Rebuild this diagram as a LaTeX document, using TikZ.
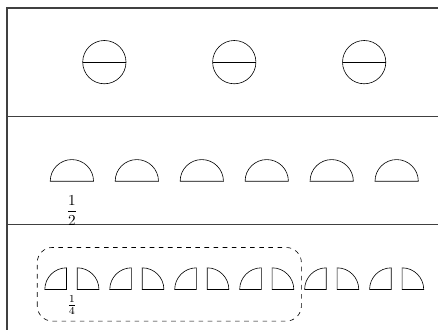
\documentclass[tikz,border=0pt]{standalone}
\usepackage{amsmath}
\begin{document}
\begin{tikzpicture}
	% Khung ba hàng
	\useasboundingbox (-0.16,0.087) rectangle (9.955,7.685);
	\draw[thick, black!75] (10.3,0) -- (0,0) -- (0,7.5) -- (10.3,7.5);
	\draw[thick, black!75] (0,2.5) -- (10.3,2.5);
	\draw[thick, black!75] (0,5) -- (10.3,5);
	% 1. Hàng trên: ba hình tròn
	\foreach \x in {2.25,5.25,8.25} {
		\draw (\x,6.25) circle (0.5);
		\draw (\x-0.5,6.25) -- (\x+0.5,6.25);
	}
	% 2. Hàng giữa: các nửa hình tròn
	\foreach \x in {1.5,3,...,9} {
		\draw (\x-0.5,3.5) arc (180:0:0.5) -- cycle;
	}
	\node (half) at (1.5,2.82) {$\dfrac{1}{2}$};
	% 3. Hàng dưới: các phần tư
	\foreach \x in {1.5,3,...,9} {
		\draw (\x-0.125,1) -- ++(0,0.5) arc (90:180:0.5) -- cycle;
		\draw (\x+0.125,1) -- ++(0,0.5) arc (90:0:0.5) -- cycle;
	}
	\draw[dashed, rounded corners=0.35cm] (0.7,0.27) rectangle (6.8,1.97);
	\node (quarter) at (1.5,0.64) {$\frac{1}{4}$};
\end{tikzpicture}
\end{document}
